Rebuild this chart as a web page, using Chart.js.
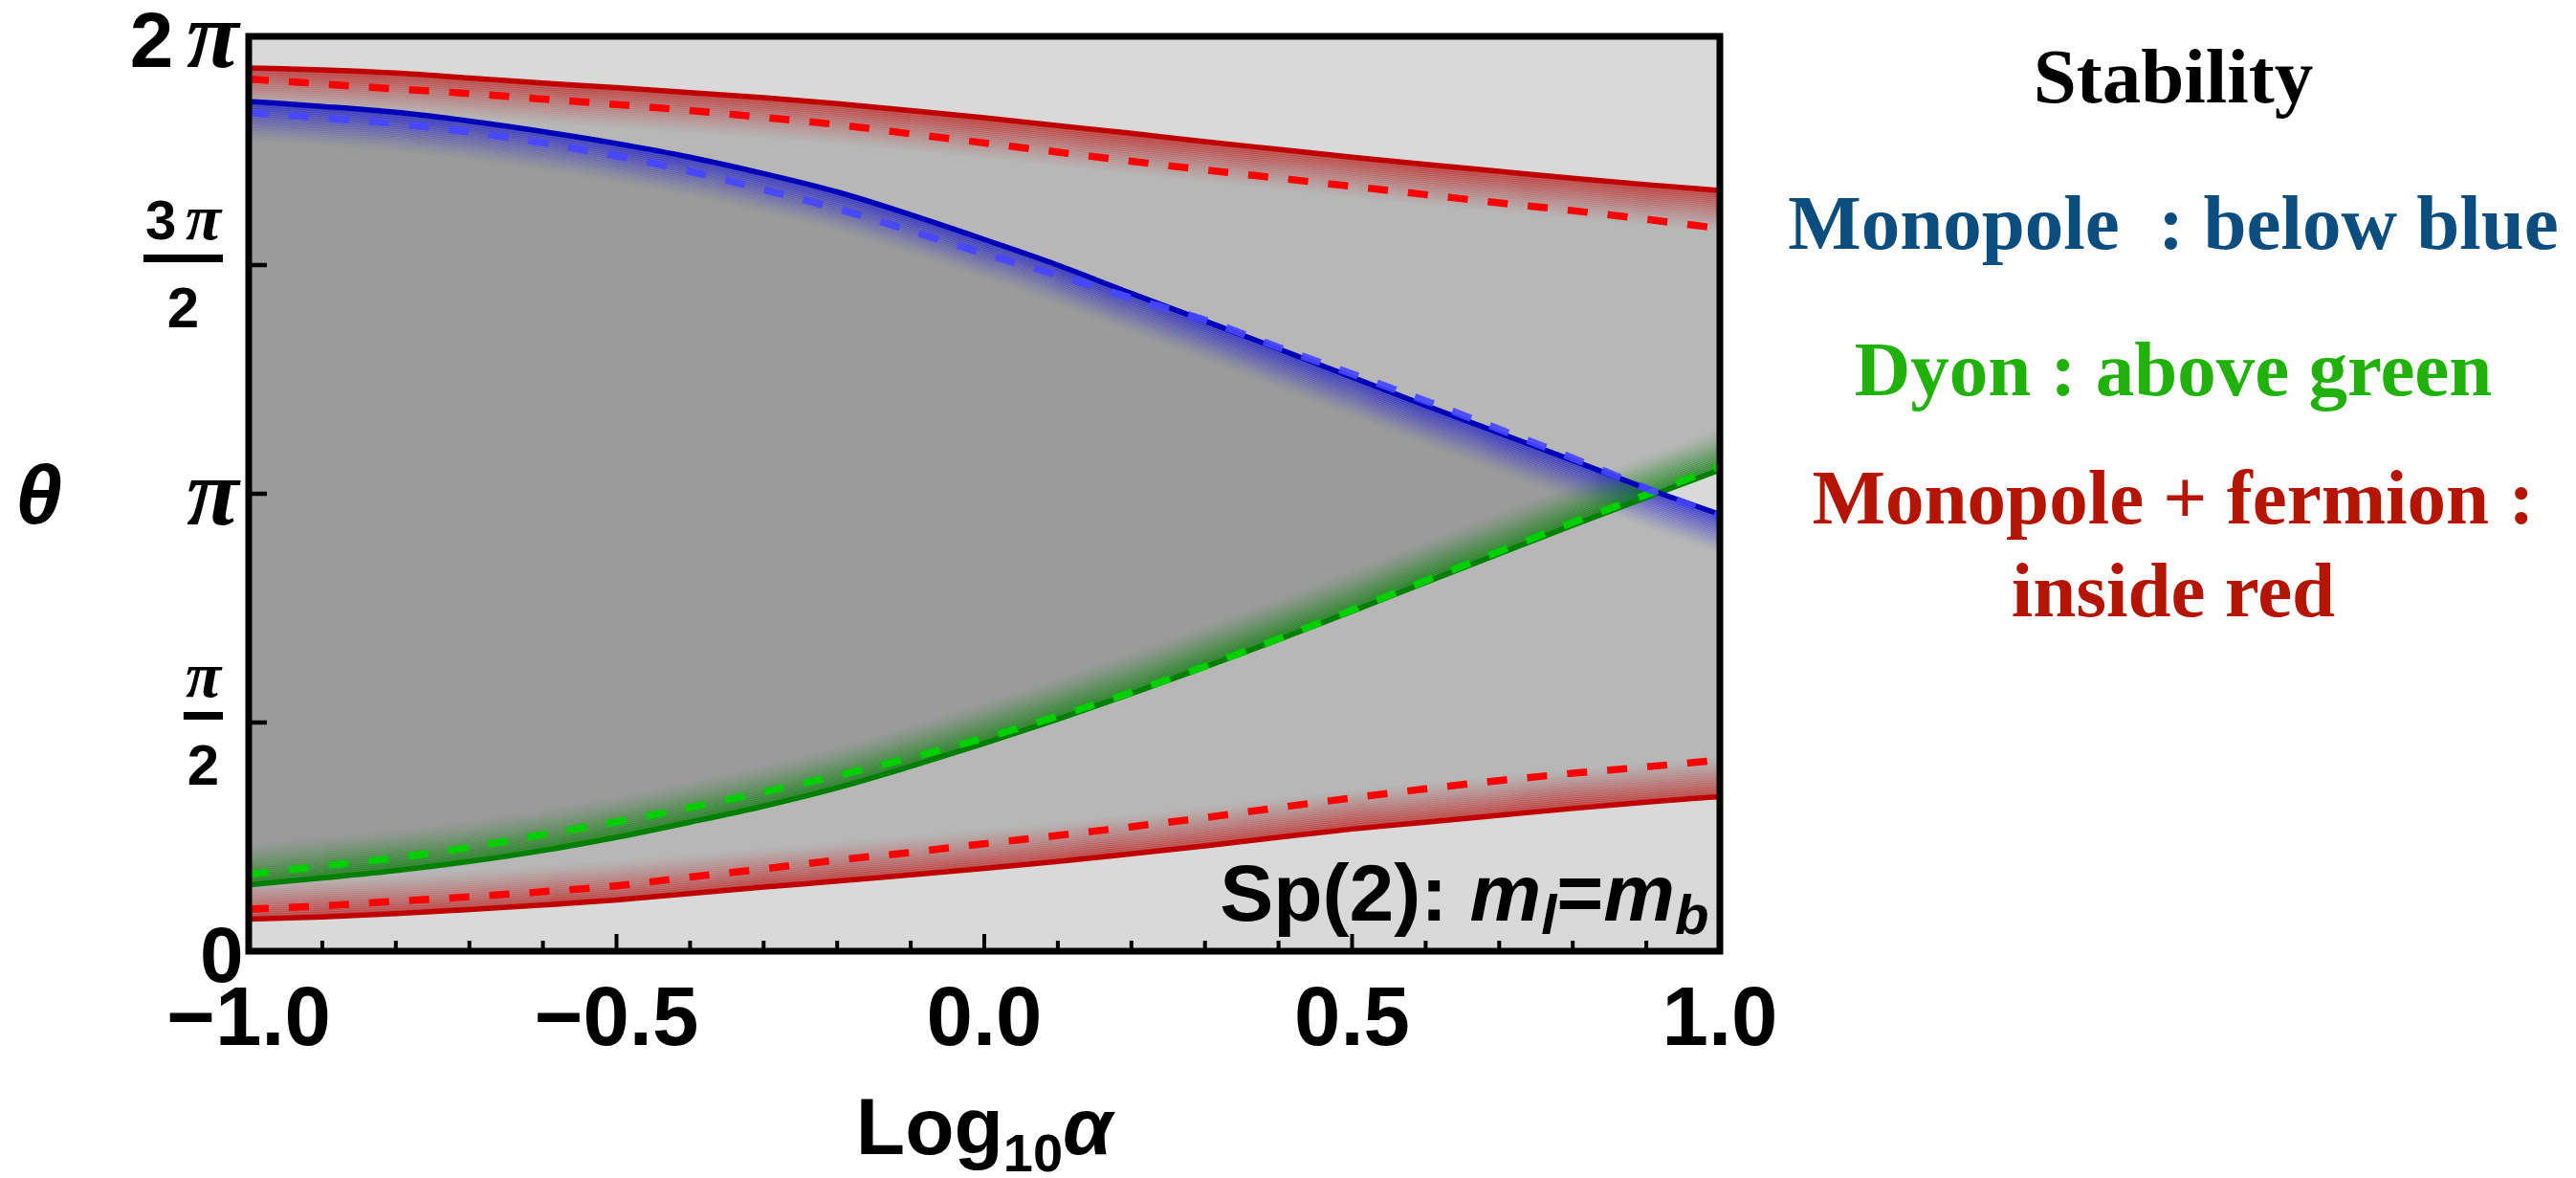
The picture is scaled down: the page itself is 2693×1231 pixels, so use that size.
<!DOCTYPE html>
<html>
<head>
<meta charset="utf-8">
<title>Sp(2): stability vs Log10 alpha</title>
<script src="https://cdn.jsdelivr.net/npm/chart.js@4.4.1/dist/chart.umd.min.js"></script>
<style>
  html, body { margin: 0; padding: 0; background: #fff; }
  #wrap { position: relative; width: 2693px; height: 1231px; overflow: hidden; }
  #chart { position: absolute; left: 0; top: 0; }
  .note {
    position: absolute; left: 1822px; width: 900px; text-align: center;
    font-family: "Liberation Serif", "Times New Roman", serif; font-weight: bold;
    font-size: 81px; line-height: 81px; white-space: pre;
  }
</style>
</head>
<body>
<div id="wrap">
  <canvas id="chart" width="2693" height="1231"></canvas>
  <div class="note" style="top:40px;color:#000">Stability</div>
  <div class="note" style="top:193px;color:#0b4d7e">Monopole  : below blue</div>
  <div class="note" style="top:346px;color:#20b20a">Dyon : above green</div>
  <div class="note" style="top:480px;color:#b41400">Monopole + fermion :</div>
  <div class="note" style="top:577px;color:#b41400">inside red</div>
</div>
<script>
// theta values are in units of pi (axis runs 0 .. 2 pi)
const xValues = [-1.0, -0.9, -0.8, -0.7, -0.6, -0.5, -0.4, -0.3, -0.2, -0.1, 0.0, 0.1, 0.2, 0.3, 0.4, 0.5, 0.6, 0.7, 0.8, 0.9, 1.0];

const redUpperSolid  = [1.931, 1.927, 1.920, 1.909, 1.898, 1.888, 1.877, 1.866, 1.853, 1.838, 1.822, 1.805, 1.788, 1.770, 1.753, 1.736, 1.720, 1.705, 1.690, 1.676, 1.663];
const redUpperDashed = [1.907, 1.896, 1.885, 1.875, 1.863, 1.851, 1.838, 1.823, 1.807, 1.787, 1.767, 1.747, 1.727, 1.708, 1.690, 1.672, 1.654, 1.636, 1.619, 1.600, 1.580];
const blueSolid      = [1.858, 1.847, 1.834, 1.815, 1.792, 1.766, 1.736, 1.700, 1.660, 1.610, 1.556, 1.500, 1.438, 1.378, 1.317, 1.255, 1.193, 1.133, 1.073, 1.012, 0.955];
const blueDashed     = [1.833, 1.822, 1.809, 1.791, 1.767, 1.739, 1.705, 1.665, 1.623, 1.575, 1.525, 1.478, 1.428, 1.380, 1.320, 1.262, 1.203, 1.141, 1.078, 1.012, 0.950];
const greenSolid     = [0.145, 0.160, 0.176, 0.196, 0.220, 0.249, 0.282, 0.317, 0.357, 0.404, 0.454, 0.507, 0.563, 0.621, 0.681, 0.743, 0.806, 0.869, 0.931, 0.992, 1.052];
const greenDashed    = [0.168, 0.186, 0.204, 0.227, 0.255, 0.283, 0.314, 0.348, 0.384, 0.423, 0.466, 0.514, 0.566, 0.623, 0.683, 0.746, 0.810, 0.874, 0.937, 0.998, 1.060];
const redLowerSolid  = [0.070, 0.075, 0.082, 0.091, 0.101, 0.112, 0.126, 0.140, 0.153, 0.167, 0.181, 0.196, 0.213, 0.230, 0.249, 0.267, 0.282, 0.297, 0.312, 0.326, 0.338];
const redLowerDashed = [0.092, 0.099, 0.109, 0.119, 0.130, 0.143, 0.162, 0.180, 0.199, 0.216, 0.235, 0.253, 0.272, 0.292, 0.314, 0.335, 0.355, 0.373, 0.389, 0.403, 0.418];

const xTickValues = [-1, -0.5, 0, 0.5, 1];
const xTickLabels = ["\u22121.0", "\u22120.5", "0.0", "0.5", "1.0"];
const yTickValues = [0, 0.5, 1, 1.5, 2];
const yTickLabels = ["0", "\u03c0/2", "\u03c0", "3\u03c0/2", "2\u03c0"];

(function () {
  const SANS = '"Liberation Sans", Arial, sans-serif';
  const SERIF = '"Liberation Serif", "Times New Roman", serif';

  const series = (vals) => xValues.map((x, i) => ({ x, y: vals[i] }));

  // one-sided coloured halo under/over the solid curves (dir +1 = below in pixels)
  const glows = [
    { index: 0, color: "rgb(200,0,0)", alpha: 0.5, dir: 1, depth: 42 },
    { index: 2, color: "rgb(20,20,220)", alpha: 0.55, dir: 1, depth: 40 },
    { index: 4, color: "rgb(0,128,0)", alpha: 0.6, dir: -1, depth: 42 },
    { index: 6, color: "rgb(200,0,0)", alpha: 0.5, dir: -1, depth: 40 },
  ];

  const areaBg = {
    id: "areaBg",
    beforeDraw(chart) {
      const { ctx, chartArea: a } = chart;
      ctx.save();
      ctx.fillStyle = "#d9d9d9";
      ctx.fillRect(a.left, a.top, a.right - a.left, a.bottom - a.top);
      ctx.restore();
    },
  };

  const glow = {
    id: "glow",
    beforeDatasetsDraw(chart) {
      const { ctx, chartArea: a } = chart;
      ctx.save();
      ctx.beginPath();
      ctx.rect(a.left, a.top, a.right - a.left, a.bottom - a.top);
      ctx.clip();
      glows.forEach((g) => {
        const line = chart.getDatasetMeta(g.index).dataset;
        line.updateControlPoints(a, "x");
        for (let k = 0; k < g.depth; k += 2) {
          const t = k / g.depth;
          ctx.save();
          ctx.translate(0, g.dir * (k + 2));
          ctx.globalAlpha = g.alpha * Math.pow(1 - t, 1.3);
          ctx.strokeStyle = g.color;
          ctx.lineWidth = 2.6;
          ctx.beginPath();
          line.path(ctx);
          ctx.stroke();
          ctx.restore();
        }
      });
      ctx.restore();
    },
  };

  // draws a row of differently styled text pieces; "right" aligns the ink edge of the last piece
  function drawRuns(ctx, runs, x, y, align) {
    let w = 0;
    runs.forEach((r) => {
      ctx.font = r.font;
      r.m = ctx.measureText(r.text);
      r.w = r.m.width;
      w += r.w;
    });
    let cx;
    if (align === "right") {
      const last = runs[runs.length - 1];
      cx = x - (w - last.w + last.m.actualBoundingBoxRight);
    } else if (align === "center") {
      cx = x - w / 2;
    } else {
      cx = x + runs[0].m.actualBoundingBoxLeft;
    }
    runs.forEach((r) => {
      ctx.font = r.font;
      ctx.fillText(r.text, cx, y + (r.dy || 0));
      cx += r.w;
    });
    return w;
  }

  function piRuns(str, digitPx, piPx) {
    const runs = [];
    for (const ch of str) {
      if (ch === "\u03c0") {
        if (runs.length) runs.push({ text: " ", font: `bold ${digitPx * 0.6}px ${SANS}` });
        runs.push({ text: ch, font: `italic bold ${piPx}px ${SERIF}` });
      } else {
        runs.push({ text: ch, font: `bold ${digitPx}px ${SANS}` });
      }
    }
    return runs;
  }

  const frame = {
    id: "frame",
    afterDraw(chart) {
      const { ctx, chartArea: a, scales } = chart;
      const xs = scales.x, ys = scales.y;
      ctx.save();
      ctx.strokeStyle = "#000";
      ctx.lineWidth = 7;
      ctx.strokeRect(a.left, a.top, a.right - a.left, a.bottom - a.top);

      // inward ticks
      ctx.lineWidth = 4;
      ctx.beginPath();
      for (let i = -10; i <= 10; i++) {
        const v = i / 10;
        const px = xs.getPixelForValue(v);
        const major = xTickValues.some((t) => Math.abs(t - v) < 1e-9);
        ctx.moveTo(px, a.bottom);
        ctx.lineTo(px, a.bottom - (major ? 18 : 11));
      }
      ctx.stroke();
      ctx.lineWidth = 4.5;
      ctx.beginPath();
      yTickValues.forEach((v) => {
        if (v <= 0 || v >= 2) return;
        const py = ys.getPixelForValue(v);
        ctx.moveTo(a.left, py);
        ctx.lineTo(a.left + 19, py);
      });
      ctx.stroke();

      ctx.fillStyle = "#000";
      ctx.textAlign = "left";
      ctx.textBaseline = "alphabetic";

      // x tick labels
      xTickValues.forEach((v, i) => {
        drawRuns(ctx, [{ text: xTickLabels[i], font: `bold 87px ${SANS}` }], xs.getPixelForValue(v), 1092, "center");
      });

      // y tick labels (pi fractions)
      yTickValues.forEach((v, i) => {
        const py = ys.getPixelForValue(v);
        const lab = yTickLabels[i];
        if (lab.includes("/")) {
          const [num, den] = lab.split("/");
          const numRuns = piRuns(num, 58, 68);
          const denRuns = piRuns(den, 60, 68);
          const right = 233;
          let nw = 0;
          numRuns.forEach((r) => { ctx.font = r.font; nw += ctx.measureText(r.text).width; });
          const bw = nw + 4;
          const cx = right - bw / 2;
          drawRuns(ctx, numRuns, cx, py - 27, "center");
          ctx.fillRect(right - bw, py - 11, bw, 8);
          drawRuns(ctx, denRuns, cx, py + 65, "center");
        } else {
          drawRuns(ctx, piRuns(lab, 82, 100), 252, py + 32, "right");
        }
      });

      // axis titles
      drawRuns(ctx, [
        { text: "Log", font: `bold 84px ${SANS}` },
        { text: "10", font: `bold 56px ${SANS}`, dy: 18 },
        { text: "\u03b1", font: `italic bold 84px ${SANS}` },
      ], (a.left + a.right) / 2, 1206, "center");
      drawRuns(ctx, [{ text: "\u03b8", font: `italic bold 88px ${SANS}` }], 20, 547, "left");

      // in-plot label
      drawRuns(ctx, [
        { text: "Sp(2): ", font: `bold 84px ${SANS}` },
        { text: "m", font: `italic bold 84px ${SANS}` },
        { text: "l", font: `italic bold 58px ${SANS}`, dy: 14 },
        { text: "=", font: `bold 84px ${SANS}` },
        { text: "m", font: `italic bold 84px ${SANS}` },
        { text: "b", font: `italic bold 58px ${SANS}`, dy: 14 },
      ], 1785, 962, "right");
      ctx.restore();
    },
  };

  const solid = (vals, color, extra) => Object.assign({
    data: series(vals), borderColor: color, borderWidth: 5.5, fill: false, order: 2,
  }, extra || {});
  const dashed = (vals, color) => ({
    data: series(vals), borderColor: color, borderWidth: 7.5, borderDash: [21, 21], fill: false, order: 1,
  });

  new Chart(document.getElementById("chart"), {
    type: "line",
    data: {
      datasets: [
        solid(redUpperSolid, "#c00000", { order: 3, fill: { target: 6, above: "#b7b7b7", below: "#b7b7b7" } }),
        dashed(redUpperDashed, "#ff0000"),
        solid(blueSolid, "#0000b8", { fill: { target: 4, above: "#9b9b9b", below: "#d9d9d9" } }),
        dashed(blueDashed, "rgba(70,70,255,0.92)"),
        solid(greenSolid, "#008000"),
        dashed(greenDashed, "#00d000"),
        solid(redLowerSolid, "#c00000"),
        dashed(redLowerDashed, "#ff0000"),
      ],
    },
    options: {
      responsive: false,
      animation: false,
      devicePixelRatio: 1,
      layout: { padding: { left: 260, top: 38, right: 895, bottom: 237 } },
      scales: {
        x: { type: "linear", min: -1, max: 1, display: false },
        y: { type: "linear", min: 0, max: 2, display: false },
      },
      elements: {
        point: { radius: 0, hoverRadius: 0 },
        line: { cubicInterpolationMode: "monotone", borderCapStyle: "butt" },
      },
      plugins: {
        legend: { display: false },
        tooltip: { enabled: false },
        filler: { drawTime: "beforeDatasetsDraw" },
      },
    },
    plugins: [areaBg, glow, frame],
  });
})();
</script>
</body>
</html>
